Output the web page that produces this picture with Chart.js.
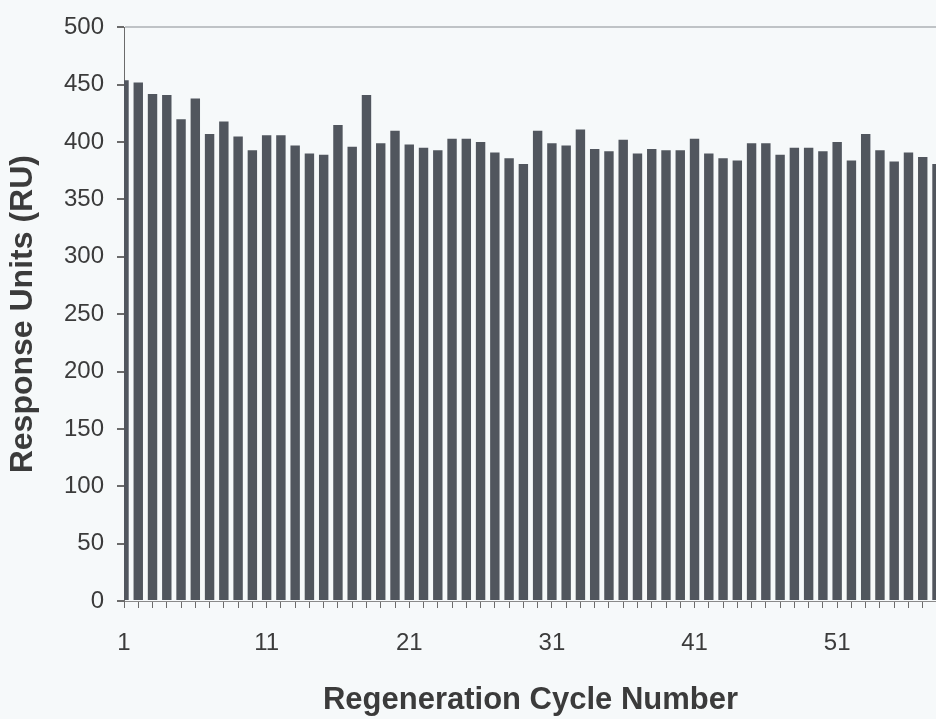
<!DOCTYPE html>
<html>
<head>
<meta charset="utf-8">
<script src="https://cdn.jsdelivr.net/npm/chart.js@4/dist/chart.umd.min.js"></script>
<style>
  html, body { margin: 0; padding: 0; background: #f6f9fa; overflow: hidden; }
  #wrap { width: 958px; height: 719px; }
</style>
</head>
<body>
<div id="wrap"><canvas id="cycleChart" width="958" height="719"></canvas></div>
<script>
// cycles 1..58
const cycles = [];
for (let i = 1; i <= 58; i++) cycles.push(String(i));

// response (RU)
const responseRU = [
  454, 452, 442, 441, 420, 438, 407, 418, 405, 393,
  406, 406, 397, 390, 389, 415, 396, 441, 399, 410,
  398, 395, 393, 403, 403, 400, 391, 386, 381, 410,
  399, 397, 411, 394, 392, 402, 390, 394, 393, 393,
  403, 390, 386, 384, 399, 399, 389, 395, 395, 392,
  400, 384, 407, 393, 383, 391, 387, 381
];

const shownLabels = ["1", "11", "21", "31", "41", "51"];
const yTicks = [0, 50, 100, 150, 200, 250, 300, 350, 400, 450, 500];

const textColor = "#3b3b3b";
const barColor = "#51565e";

const ctx = document.getElementById("cycleChart").getContext("2d");

new Chart(ctx, {
  type: "bar",
  data: {
    labels: cycles,
    datasets: [
      {
        data: responseRU,
        backgroundColor: barColor,
        borderWidth: 0,
        barPercentage: 0.66,
        categoryPercentage: 1,
        clip: 0,
      },
    ],
  },
  options: {
    responsive: false,
    animation: false,
    layout: { padding: { top: 22, right: 0, bottom: 0, left: 0 } },
    plugins: {
      legend: { display: false },
      tooltip: { enabled: false },
    },
    scales: {
      x: {
        offset: false,
        grid: {
          offset: false,
          drawOnChartArea: false,
          drawTicks: true,
          tickLength: 7,
          tickColor: "#6b6b6b",
        },
        border: { color: "#8a8a8a", width: 1 },
        ticks: {
          autoSkip: false,
          maxRotation: 0,
          minRotation: 0,
          padding: 21,
          color: textColor,
          font: { family: "'Liberation Sans', Arial, sans-serif", size: 24 },
          callback: function (value) {
            const lab = this.getLabelForValue(value);
            return shownLabels.includes(lab) ? lab : "";
          },
        },
        title: {
          display: true,
          text: "Regeneration Cycle Number",
          color: textColor,
          font: { family: "'Liberation Sans', Arial, sans-serif", size: 31, weight: "bold" },
          padding: { top: 0, bottom: 0 },
        },
        afterFit: function (scale) {
          scale.height = 118;
        },
      },
      y: {
        min: 0,
        max: 500,
        afterBuildTicks: function (scale) {
          scale.ticks = yTicks.map((v) => ({ value: v }));
        },
        grid: {
          drawOnChartArea: true,
          drawTicks: true,
          tickLength: 7,
          tickColor: "#6b6b6b",
          color: function (c) {
            return c.tick && c.tick.value === 500 ? "#bfc3c6" : "rgba(0,0,0,0)";
          },
          lineWidth: 2,
        },
        border: { color: "#6b6b6b", width: 1 },
        ticks: {
          padding: 13,
          color: textColor,
          font: { family: "'Liberation Sans', Arial, sans-serif", size: 24 },
        },
        title: {
          display: true,
          text: "Response Units (RU)",
          color: textColor,
          font: { family: "'Liberation Sans', Arial, sans-serif", size: 32, weight: "bold" },
          padding: { top: 4, bottom: 0 },
        },
        afterFit: function (scale) {
          scale.width = 124;
        },
      },
    },
  },
});
</script>
</body>
</html>
